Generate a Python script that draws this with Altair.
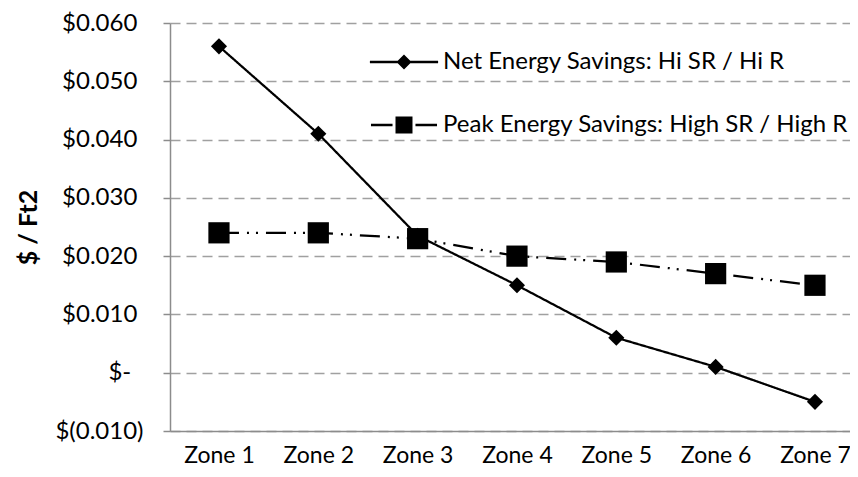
import altair as alt
import pandas as pd

zones = ["Zone 1", "Zone 2", "Zone 3", "Zone 4", "Zone 5", "Zone 6", "Zone 7"]
net_values = [0.056, 0.041, 0.0235, 0.015, 0.006, 0.001, -0.005]
peak_values = [0.024, 0.024, 0.023, 0.020, 0.019, 0.017, 0.015]
series_names = ["Net Energy Savings: Hi SR / Hi R", "Peak Energy Savings: High SR / High R"]
y_ticks = [-0.01, 0.0, 0.01, 0.02, 0.03, 0.04, 0.05, 0.06]

df = pd.DataFrame({
    "zone": zones * 2,
    "value": net_values + peak_values,
    "series": [series_names[0]] * len(zones) + [series_names[1]] * len(zones),
})

FONT = "Lato"
AXIS_GRAY = "#8c8c8c"
GRID_GRAY = "#a0a0a0"
NBSP = "\u00a0"
ZWSP = "\u200b"  # keeps trailing spaces from being trimmed

label_expr = (
    "datum.value > 0.0001 ? '$' + format(datum.value, '.3f') + '" + NBSP + ZWSP + "' : "
    "(datum.value < -0.0001 ? '$(' + format(-datum.value, '.3f') + ')' : '$-" + NBSP * 2 + ZWSP + "')"
)

x_enc = alt.X(
    "zone:N", sort=zones,
    scale=alt.Scale(type="point", padding=0.4228, align=0.583),
    axis=alt.Axis(title=None, labelAngle=0, ticks=False, domain=True,
                  domainColor=AXIS_GRAY, domainWidth=1.5, labelPadding=13,
                  labelFont=FONT, labelFontSize=23, labelColor="black", grid=False),
)
y_enc = alt.Y(
    "value:Q",
    scale=alt.Scale(domain=[-0.01, 0.06], nice=False, zero=False),
    axis=alt.Axis(values=y_ticks, title="$ / Ft2", labelExpr=label_expr,
                  grid=True, gridDash=[10, 6], gridColor=GRID_GRAY, gridWidth=1.5,
                  domainColor=AXIS_GRAY, domainWidth=1.5,
                  tickColor=AXIS_GRAY, tickSize=7, tickWidth=1.5,
                  labelPadding=20, labelFont=FONT, labelFontSize=24, labelColor="black",
                  titleFont=FONT, titleFontSize=25, titleFontWeight="bold",
                  titleColor="black", titlePadding=13),
)

lines = alt.Chart(df).mark_line(color="black", strokeWidth=2.25).encode(
    x=x_enc, y=y_enc,
    strokeDash=alt.StrokeDash("series:N",
                              scale=alt.Scale(domain=series_names, range=[[1, 0], [20, 8, 2, 7, 2, 8]]),
                              legend=None),
)

points = alt.Chart(df).mark_point(filled=True, color="black", opacity=1).encode(
    x=x_enc, y=y_enc,
    shape=alt.Shape("series:N", scale=alt.Scale(domain=series_names, range=["diamond", "square"]), legend=None),
    size=alt.Size("series:N", scale=alt.Scale(domain=series_names, range=[260, 450]), legend=None),
)

legend_paths = [
    "M-1.1,-0.04L1.1,-0.04L1.1,0.04L-1.1,0.04Z M-0.242,0L0,-0.242L0.242,0L0,0.242Z",
    "M-1.065,-0.04L-0.37,-0.04L-0.37,0.04L-1.065,0.04Z M0.37,-0.04L1.065,-0.04L1.065,0.04L0.37,0.04Z "
    "M-0.274,-0.274L0.274,-0.274L0.274,0.274L-0.274,0.274Z",
]

legend_layer = alt.Chart(df).transform_filter("false").mark_point(
    filled=True, color="black", strokeWidth=0, size=3844, opacity=1
).encode(
    x=x_enc, y=y_enc,
    shape=alt.Shape("series:N", scale=alt.Scale(domain=series_names, range=legend_paths),
                    legend=alt.Legend(title=None, orient="none", legendX=203, legendY=8,
                                      labelFont=FONT, labelFontSize=24, labelColor="black",
                                      labelLimit=0, labelOffset=8, rowPadding=20, padding=0,
                                      symbolSize=3844, symbolStrokeWidth=0,
                                      symbolFillColor="black", symbolOpacity=1)),
)

chart = alt.layer(lines, points, legend_layer).resolve_scale(shape="independent").properties(
    width=680, height=408,
    autosize=alt.AutoSizeParams(type="none"),
    padding={"left": 162, "top": 15, "right": 0, "bottom": 38},
    background="white",
).configure_view(stroke=None)

chart.save("out.html", embed_options={"renderer": "svg", "actions": False})
